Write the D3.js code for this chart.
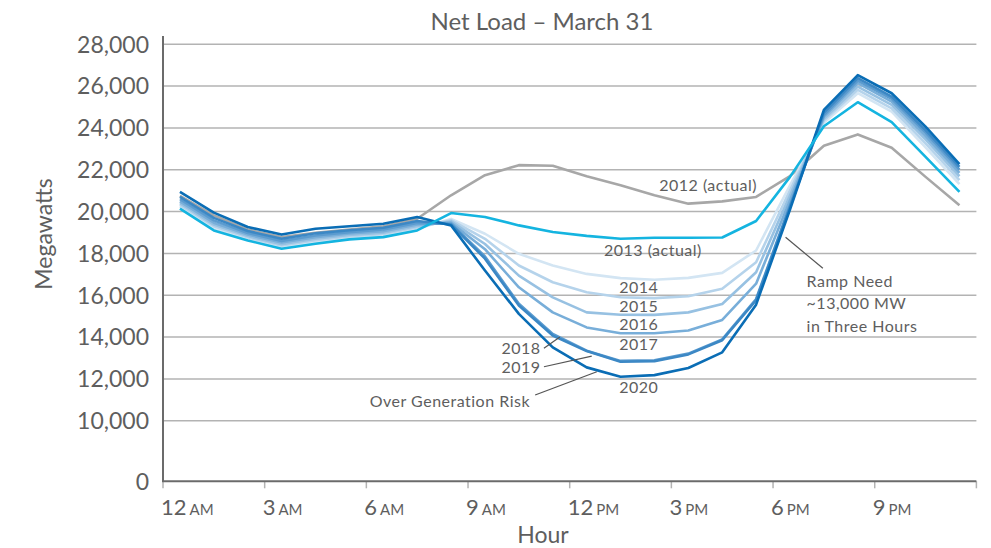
<!DOCTYPE html>
<html>
<head>
<meta charset="utf-8">
<script src="https://cdn.jsdelivr.net/npm/d3@7/dist/d3.min.js"></script>
<style>
  body { margin: 0; background: #fff; }
  svg text { font-family: Lato, "Open Sans", sans-serif; fill: #5e5e5e; }
  svg text.note { letter-spacing: 0.5px; }
</style>
</head>
<body>
<svg id="chart" width="991" height="548"></svg>
<script>
// hourly net load (MW), points sit in the middle of each hour
var hours = [0.5, 1.5, 2.5, 3.5, 4.5, 5.5, 6.5, 7.5, 8.5, 9.5, 10.5, 11.5,
  12.5, 13.5, 14.5, 15.5, 16.5, 17.5, 18.5, 19.5, 20.5, 21.5, 22.5, 23.5];

var load2012 = [20750, 19820, 19140, 18780, 18990, 19140, 19300, 19660, 20780, 21740, 22220, 22190,
  21690, 21260, 20780, 20380, 20490, 20700, 21700, 23150, 23690, 23050, 21660, 20300];
var load2013 = [20140, 19100, 18620, 18220, 18460, 18670, 18780, 19100, 19930, 19740, 19340, 19020,
  18840, 18700, 18750, 18750, 18760, 19550, 21660, 24080, 25230, 24280, 22620, 20940];
var load2014 = [20240, 19210, 18700, 18310, 18550, 18750, 18860, 19180, 19650, 18940, 17980, 17420,
  17020, 16820, 16740, 16830, 17070, 18140, 21260, 24250, 25660, 24780, 23070, 21310];
var load2015 = [20320, 19300, 18770, 18380, 18630, 18820, 18930, 19250, 19590, 18700, 17420, 16620,
  16140, 15900, 15860, 15950, 16310, 17580, 21020, 24350, 25820, 24940, 23260, 21500];
var load2016 = [20400, 19380, 18830, 18440, 18700, 18880, 18990, 19310, 19530, 18450, 16940, 15900,
  15180, 15070, 15060, 15180, 15580, 17100, 20780, 24440, 25980, 25100, 23450, 21690];
var load2017 = [20490, 19470, 18900, 18520, 18780, 18950, 19060, 19380, 19470, 18200, 16380, 15180,
  14460, 14180, 14180, 14310, 14820, 16550, 20540, 24540, 26140, 25260, 23610, 21850];
var load2018 = [20590, 19580, 18980, 18600, 18860, 19020, 19140, 19460, 19420, 17850, 15590, 14150,
  13350, 12860, 12890, 13210, 13890, 15820, 20300, 24620, 26260, 25390, 23770, 22010];
var load2019 = [20700, 19700, 19070, 18700, 18960, 19110, 19230, 19550, 19380, 17750, 15510, 14070,
  13330, 12820, 12850, 13170, 13850, 15760, 20220, 24730, 26380, 25500, 23900, 22140];
var load2020 = [20940, 19950, 19260, 18900, 19180, 19300, 19420, 19740, 19340, 17180, 15110, 13510,
  12550, 12100, 12180, 12520, 13270, 15550, 20100, 24860, 26530, 25660, 24060, 22270];

var yTicks = [0, 10000, 12000, 14000, 16000, 18000, 20000, 22000, 24000, 26000, 28000];
var xTicks = [0, 3, 6, 9, 12, 15, 18, 21, 24];
var xTickNumbers = ['12', '3', '6', '9', '12', '3', '6', '9', ''];
var xTickSuffixes = ['AM', 'AM', 'AM', 'AM', 'PM', 'PM', 'PM', 'PM', ''];

var series = [
  { year: '2012', values: load2012 },
  { year: '2014', values: load2014 },
  { year: '2015', values: load2015 },
  { year: '2016', values: load2016 },
  { year: '2017', values: load2017 },
  { year: '2018', values: load2018 },
  { year: '2019', values: load2019 },
  { year: '2020', values: load2020 },
  { year: '2013', values: load2013 }
];

var colors = {
  '2012': '#a7a7a7', '2013': '#14b4e0',
  '2014': '#d3e5f3', '2015': '#b5d3eb', '2016': '#97c1e2', '2017': '#78aed9',
  '2018': '#5b9bcf', '2019': '#3c88c5', '2020': '#0a6db5'
};

// labels placed in data units: [hour, MW]
var labels = [
  { text: '2012 (actual)', at: [14.64, 21270], anchor: 'start' },
  { text: '2013 (actual)', at: [13.01, 18160], anchor: 'start' },
  { text: '2014', at: [13.46, 16360], anchor: 'start' },
  { text: '2015', at: [13.46, 15450], anchor: 'start' },
  { text: '2016', at: [13.46, 14620], anchor: 'start' },
  { text: '2017', at: [13.46, 13670], anchor: 'start' },
  { text: '2020', at: [13.46, 11600], anchor: 'start' },
  { text: '2018', at: [11.14, 13460], anchor: 'end' },
  { text: '2019', at: [11.14, 12580], anchor: 'end' },
  { text: 'Over Generation Risk', at: [10.83, 10940], anchor: 'end' },
  { text: 'Ramp Need', at: [18.99, 16680], anchor: 'start' },
  { text: '~13,000 MW', at: [18.99, 15610], anchor: 'start' },
  { text: 'in Three Hours', at: [18.99, 14540], anchor: 'start' }
];

var leaders = [
  [[11.24, 13460], [11.71, 14000]],
  [[11.24, 12580], [12.65, 13090]],
  [[10.98, 11230], [12.80, 12340]],
  [[18.37, 18770], [19.47, 17290]]
];

var svg = d3.select('#chart');

var x = d3.scaleLinear().domain([0, 24]).range([163, 976.4]);
// broken axis: 0 sits a short step below 10,000
var y = d3.scaleLinear().domain([0, 10000, 28000]).range([481.3, 420.7, 44.3]);

// gridlines
svg.append('g')
  .selectAll('line')
  .data(yTicks.filter(function (d) { return d > 0; }))
  .enter().append('line')
  .attr('x1', x(0)).attr('x2', x(24))
  .attr('y1', y).attr('y2', y)
  .attr('stroke', '#b3b3b3')
  .attr('stroke-width', 1.5);

// y tick labels
svg.append('g')
  .selectAll('text')
  .data(yTicks)
  .enter().append('text')
  .attr('x', 149)
  .attr('y', y)
  .attr('dy', '0.36em')
  .attr('text-anchor', 'end')
  .style('font-size', '23px')
  .text(d3.format(','));

// x axis ticks
svg.append('g')
  .selectAll('line')
  .data(xTicks)
  .enter().append('line')
  .attr('x1', x).attr('x2', x)
  .attr('y1', y(0)).attr('y2', y(0) + 7)
  .attr('stroke', '#b3b3b3')
  .attr('stroke-width', 1.5);

var xLabels = svg.append('g')
  .selectAll('text')
  .data(xTicks.slice(0, 8))
  .enter().append('text')
  .attr('x', function (d) { return x(d) - 2; })
  .attr('y', 515)
  .style('font-size', '22px');
xLabels.append('tspan').text(function (d, i) { return xTickNumbers[i]; });
xLabels.append('tspan')
  .attr('dx', 3)
  .style('font-size', '15px')
  .text(function (d, i) { return xTickSuffixes[i]; });

// axis lines
svg.append('line')
  .attr('x1', x(0)).attr('x2', x(0))
  .attr('y1', 36).attr('y2', y(0))
  .attr('stroke', '#6b6b6b').attr('stroke-width', 2);
svg.append('line')
  .attr('x1', x(0) - 1).attr('x2', x(24))
  .attr('y1', y(0)).attr('y2', y(0))
  .attr('stroke', '#6b6b6b').attr('stroke-width', 2);

// load curves
var line = d3.line()
  .x(function (d, i) { return x(hours[i]); })
  .y(function (d) { return y(d); });

svg.append('g')
  .selectAll('path')
  .data(series)
  .enter().append('path')
  .attr('d', function (d) { return line(d.values); })
  .attr('fill', 'none')
  .attr('stroke', function (d) { return colors[d.year]; })
  .attr('stroke-width', 2.6)
  .attr('stroke-linejoin', 'round');

// leader lines
svg.append('g')
  .selectAll('line')
  .data(leaders)
  .enter().append('line')
  .attr('x1', function (d) { return x(d[0][0]); })
  .attr('y1', function (d) { return y(d[0][1]); })
  .attr('x2', function (d) { return x(d[1][0]); })
  .attr('y2', function (d) { return y(d[1][1]); })
  .attr('stroke', '#555')
  .attr('stroke-width', 1.2);

svg.append('g')
  .selectAll('text')
  .data(labels)
  .enter().append('text')
  .attr('class', 'note')
  .attr('x', function (d) { return x(d.at[0]); })
  .attr('y', function (d) { return y(d.at[1]); })
  .attr('dy', '0.36em')
  .attr('text-anchor', function (d) { return d.anchor; })
  .style('font-size', '16px')
  .text(function (d) { return d.text; });

// titles
svg.append('text')
  .attr('x', 542).attr('y', 21)
  .attr('dy', '0.36em')
  .attr('text-anchor', 'middle')
  .style('font-size', '24px')
  .text('Net Load \u2013 March 31');

svg.append('text')
  .attr('transform', 'translate(44,234) rotate(-90)')
  .attr('dy', '0.36em')
  .attr('text-anchor', 'middle')
  .style('font-size', '23px')
  .text('Megawatts');

svg.append('text')
  .attr('x', 543).attr('y', 535)
  .attr('dy', '0.36em')
  .attr('text-anchor', 'middle')
  .style('font-size', '23px')
  .text('Hour');
</script>
</body>
</html>
